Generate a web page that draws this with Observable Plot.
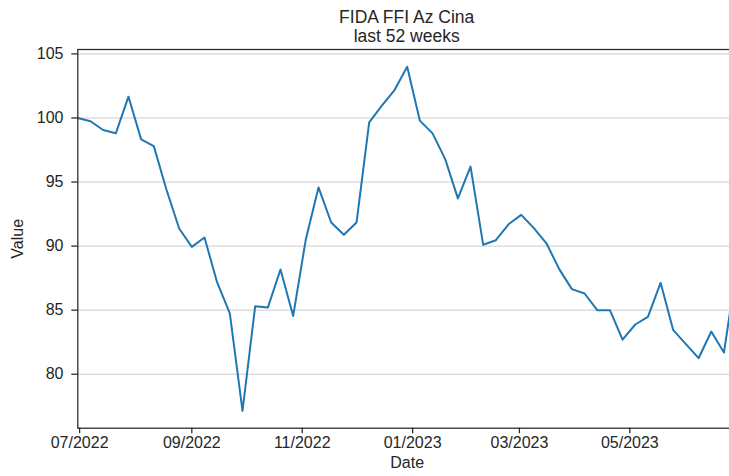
<!DOCTYPE html>
<html>
<head>
<meta charset="utf-8">
<script src="https://cdn.jsdelivr.net/npm/d3@7"></script>
<script src="https://cdn.jsdelivr.net/npm/@observablehq/plot@0.6"></script>
<style>
  html, body { margin: 0; padding: 0; background: white; }
  #wrap { width: 729px; height: 476px; overflow: hidden; position: relative; background: white; }
  #title { position: absolute; left: 0; top: 7.6px; width: 740px; padding-left: 77.3px; padding-right: 3.9px;
           box-sizing: border-box; text-align: center; font-family: "Liberation Sans", Arial, sans-serif;
           font-size: 17.5px; line-height: 19.6px; color: #262626; white-space: nowrap; }
  #chart { position: absolute; left: 0; top: 44px; }
  #chart svg { max-width: none !important; }
</style>
</head>
<body>
<div id="wrap">
  <div id="title"></div>
  <div id="chart"></div>
</div>
<script>
const titleLines = ["FIDA FFI Az Cina", "last 52 weeks"];
const xLabel = "Date";
const yLabel = "Value";

const dates = [
  "2022-06-30","2022-07-07","2022-07-14","2022-07-21","2022-07-28",
  "2022-08-04","2022-08-11","2022-08-18","2022-08-25",
  "2022-09-01","2022-09-08","2022-09-15","2022-09-22","2022-09-29",
  "2022-10-06","2022-10-13","2022-10-20","2022-10-27",
  "2022-11-03","2022-11-10","2022-11-17","2022-11-24",
  "2022-12-01","2022-12-08","2022-12-15","2022-12-22","2022-12-29",
  "2023-01-05","2023-01-12","2023-01-19","2023-01-26",
  "2023-02-02","2023-02-09","2023-02-16","2023-02-23",
  "2023-03-02","2023-03-09","2023-03-16","2023-03-23","2023-03-30",
  "2023-04-06","2023-04-13","2023-04-20","2023-04-27",
  "2023-05-04","2023-05-11","2023-05-18","2023-05-25",
  "2023-06-01","2023-06-08","2023-06-15","2023-06-22","2023-06-29"
];

const values = [
  100.0, 99.74, 99.06, 98.8, 101.66,
  98.33, 97.8, 94.4, 91.37,
  89.94, 90.67, 87.16, 84.74, 77.13,
  85.3, 85.2, 88.17, 84.55,
  90.54, 94.58, 91.84, 90.88,
  91.84, 99.66, 100.96, 102.18, 104.0,
  99.79, 98.8, 96.79, 93.72,
  96.2, 90.1, 90.46, 91.7,
  92.44, 91.4, 90.2, 88.2, 86.64,
  86.3, 85.0, 85.0, 82.7,
  83.88, 84.48, 87.13, 83.44,
  82.35, 81.25, 83.33, 81.69, 88.3
];

const xTicks = ["2022-07-01","2022-09-01","2022-11-01","2023-01-01","2023-03-01","2023-05-01"];
const yTicks = [80, 85, 90, 95, 100, 105];

document.getElementById("title").innerHTML = titleLines.join("<br>");

const data = dates.map((d, i) => ({date: new Date(d), value: values[i]}));
const vMin = d3.min(values), vMax = d3.max(values);
const pad = (vMax - vMin) * 0.05;

const ink = "#262626";
const font = "Liberation Sans, Arial, sans-serif";

const chart = Plot.plot({
  width: 740,
  height: 432,
  marginTop: 5,
  marginBottom: 48.3,
  marginLeft: 77.3,
  marginRight: 3.9,
  style: {fontFamily: font, fontSize: "16px", color: ink, background: "white", overflow: "visible", maxWidth: "none"},
  x: {type: "utc", domain: [new Date(dates[0]), new Date(dates[dates.length - 1])]},
  y: {domain: [vMin - pad, vMax + pad]},
  marks: [
    Plot.gridY(yTicks, {stroke: "#cccccc", strokeOpacity: 1, strokeWidth: 1}),
    Plot.lineY(data, {x: "date", y: "value", stroke: "#1f77b4", strokeWidth: 2, clip: true}),
    Plot.frame({stroke: ink, strokeWidth: 1.25}),
    Plot.axisX(xTicks.map(d => new Date(d)), {
      tickFormat: d3.utcFormat("%m/%Y"), tickSize: 5.5, tickPadding: 3, label: null,
      stroke: ink, strokeWidth: 1.25, fill: ink, fontSize: 16
    }),
    Plot.axisY(yTicks, {
      tickSize: 6, tickPadding: 8.3, label: null,
      stroke: ink, strokeWidth: 1.25, fill: ink, fontSize: 16
    }),
    Plot.text([yLabel], {frameAnchor: "left", dx: -60, rotate: -90, textAnchor: "middle", lineAnchor: "middle", fill: ink, fontSize: 16}),
    Plot.text([xLabel], {frameAnchor: "bottom", dy: 35, textAnchor: "middle", lineAnchor: "middle", fill: ink, fontSize: 16})
  ]
});

document.getElementById("chart").appendChild(chart);
</script>
</body>
</html>
